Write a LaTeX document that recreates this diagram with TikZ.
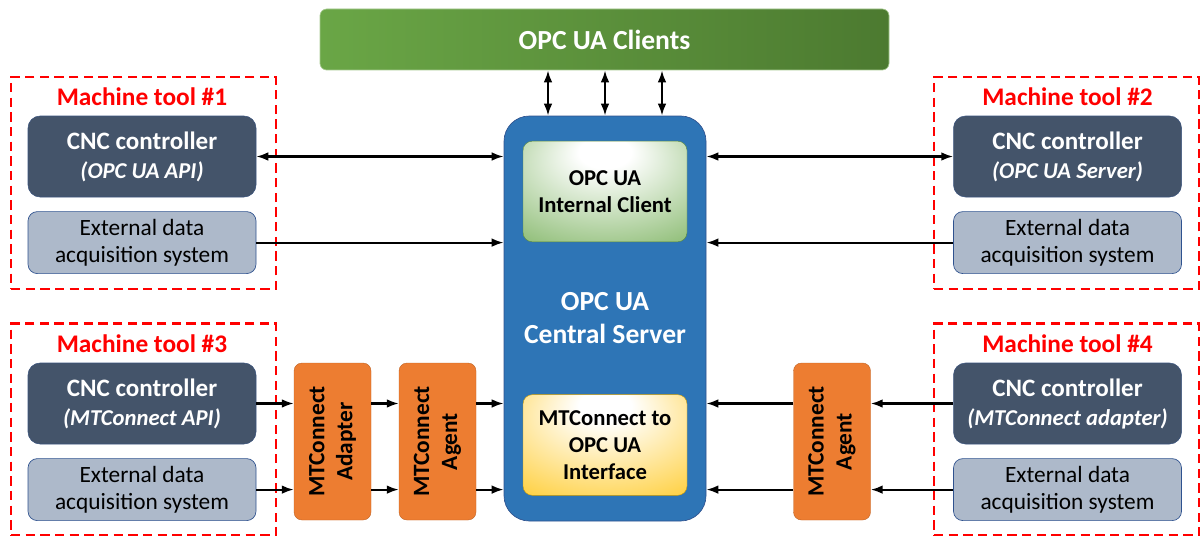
\documentclass[tikz,border=0pt]{standalone}
\usepackage{fontspec}
\setmainfont{Carlito}
\usetikzlibrary{arrows.meta,positioning}
\definecolor{cRed}{HTML}{FF0000}
\definecolor{cSlate}{HTML}{44546A}
\definecolor{cGrey}{HTML}{ADB9CA}
\definecolor{cEdge}{HTML}{2F528F}
\definecolor{cBlue}{HTML}{2E75B6}
\definecolor{cOrange}{HTML}{ED7D31}
\definecolor{cGreen}{HTML}{6AA84A}
\definecolor{cGreenL}{HTML}{6AA646}
\definecolor{cGreenD}{HTML}{4C7A30}
\definecolor{cGold}{HTML}{FFC000}
\pgfdeclareradialshading{glowG}{\pgfpoint{0bp}{22bp}}{color(0bp)=(white); color(8bp)=(white);
  color(40bp)=(cGreen!70!white); color(70bp)=(cGreen)}
\pgfdeclareradialshading{glowY}{\pgfpoint{0bp}{22bp}}{color(0bp)=(white); color(8bp)=(white);
  color(40bp)=(cGold!70!white); color(70bp)=(cGold)}
\newcommand\cncfont{\fontsize{18.8}{21.75}\selectfont}
\newcommand\apifont{\fontsize{17}{21.75}\selectfont\bfseries\itshape}
\newcommand\extfont{\fontsize{17.5}{20.25}\selectfont}
\newcommand\mtcfont{\fontsize{17.5}{21}\selectfont\bfseries}
\newcommand\ttlfont{\fontsize{19}{22}\selectfont\bfseries}
\newcommand\srvfont{\fontsize{20.7}{24.75}\selectfont\bfseries}
\newcommand\inrfont{\fontsize{17}{20.5}\selectfont\bfseries}
\tikzset{
  frame/.style = {rectangle, draw=cRed, dash pattern=on 7pt off 4pt, line width=1.8pt,
                  minimum width=198.75pt, minimum height=159pt},
  ttl/.style   = {font=\ttlfont, text=cRed, inner sep=0pt},
  cnc/.style   = {rectangle, rounded corners=9pt, fill=cSlate, draw=cEdge!50!cSlate, line width=0.4pt,
                  text=white, align=center, font=\cncfont, inner sep=0pt,
                  minimum width=171pt, minimum height=60.75pt},
  ext/.style   = {rectangle, rounded corners=7pt, fill=cGrey, draw=cEdge, line width=0.5pt,
                  text=black, align=center, font=\extfont, inner sep=0pt,
                  minimum width=171pt, minimum height=46.5pt},
  mtc/.style   = {rectangle, rounded corners=6pt, fill=cOrange, draw=cOrange!80!black, line width=0.3pt,
                  align=center, font=\mtcfont, inner sep=0pt, rotate=90,
                  minimum width=117.75pt, minimum height=57.75pt},
  inr/.style   = {rectangle, rounded corners=7pt, align=center, font=\inrfont, inner sep=0pt,
                  minimum width=123pt, minimum height=75.5pt},
  fl/.style    = {-{Latex[length=9pt,width=6.5pt]}, line width=1.6pt},
  fll/.style   = {{Latex[length=9pt,width=6.5pt]}-{Latex[length=9pt,width=6.5pt]}, line width=1.6pt},
}
\begin{document}
\begin{tikzpicture}[x=0.75pt, y=-0.75pt]
  \useasboundingbox (0,0) rectangle (1201,535);

  % clients and central server
  \node[rectangle, rounded corners=5pt, left color=cGreenL, right color=cGreenD, draw=cGreenL!60!white,
        line width=0.5pt, minimum width=426.75pt, minimum height=45.75pt, text=white,
        font=\srvfont] (clients) at (604.5,39.5) {OPC UA Clients};
  \node[rectangle, rounded corners=19pt, fill=cBlue, draw=cEdge, line width=0.5pt,
        minimum width=151.5pt, minimum height=303.75pt] (server) at (605,318.5) {};
  \node[text=white, align=center, font=\srvfont] (srvlbl) at (605,318.5) {OPC UA\\Central Server};
  \node[inr, shading=glowG, draw=cGreen!80!black, line width=0.3pt] (intcl) at (605,191.5) {OPC UA\\Internal Client};
  \node[inr, shading=glowY, draw=cGold!80!black, line width=0.3pt] (iface) at (605,445) {MTConnect to\\OPC UA\\Interface};

  % machine tools
  \node[frame] (mt1) at (143.5,183) {};
  \node[cnc] (cnc1) at (142,156.5) {\textbf{CNC controller}\\{\apifont(OPC UA API)}};
  \node[ext, below=10.5pt of cnc1] (ext1) {External data\\acquisition system};
  \node[ttl, above=7pt of cnc1] (ttl1) {Machine tool \#1};

  \node[frame] (mt2) at (1066.5,183) {};
  \node[cnc] (cnc2) at (1067.5,156.5) {\textbf{CNC controller}\\{\apifont(OPC UA Server)}};
  \node[ext, below=10.5pt of cnc2] (ext2) {External data\\acquisition system};
  \node[ttl, above=7pt of cnc2] (ttl2) {Machine tool \#2};

  \node[frame] (mt3) at (143.5,429.5) {};
  \node[cnc] (cnc3) at (142,403.5) {\textbf{CNC controller}\\{\apifont(MTConnect API)}};
  \node[ext, below=10.5pt of cnc3] (ext3) {External data\\acquisition system};
  \node[ttl, above=7pt of cnc3] (ttl3) {Machine tool \#3};

  \node[frame] (mt4) at (1066.5,429.5) {};
  \node[cnc] (cnc4) at (1067.5,403.5) {\textbf{CNC controller}\\{\apifont(MTConnect adapter)}};
  \node[ext, below=10.5pt of cnc4] (ext4) {External data\\acquisition system};
  \node[ttl, above=7pt of cnc4] (ttl4) {Machine tool \#4};

  % MTConnect adapter / agents (rotated: north = left side, south = right side)
  \node[mtc] (adapter) at (332.5,441.5) {MTConnect\\Adapter};
  \node[mtc] (agent3) at (437.5,441.5) {MTConnect\\Agent};
  \node[mtc] (agent4) at (832,441.5) {MTConnect\\Agent};

  % connectors
  \foreach \dx in {-42.75,0,42.75}
    \draw[fll] ([xshift=\dx pt]server.north) -- ([xshift=\dx pt]server.north |- clients.south);
  \draw[fll] (cnc1.east) -- (cnc1.east -| server.west);
  \draw[fl] (ext1.east) -- (ext1.east -| server.west);
  \draw[fll] (cnc2.west) -- (cnc2.west -| server.east);
  \draw[fl] (ext2.west) -- (ext2.west -| server.east);

  \draw[fl] (cnc3.east) -- (cnc3.east -| adapter.north);
  \draw[fl] (ext3.east) -- (ext3.east -| adapter.north);
  \draw[fl] (adapter.south |- cnc3.east) -- (cnc3.east -| agent3.north);
  \draw[fl] (adapter.south |- ext3.east) -- (ext3.east -| agent3.north);
  \draw[fl] (agent3.south |- cnc3.east) -- (cnc3.east -| server.west);
  \draw[fl] (agent3.south |- ext3.east) -- (ext3.east -| server.west);

  \draw[fl] (cnc4.west) -- (cnc4.west -| agent4.south);
  \draw[fl] (ext4.west) -- (ext4.west -| agent4.south);
  \draw[fl] (agent4.north |- cnc4.west) -- (cnc4.west -| server.east);
  \draw[fl] (agent4.north |- ext4.west) -- (ext4.west -| server.east);
\end{tikzpicture}
\end{document}
